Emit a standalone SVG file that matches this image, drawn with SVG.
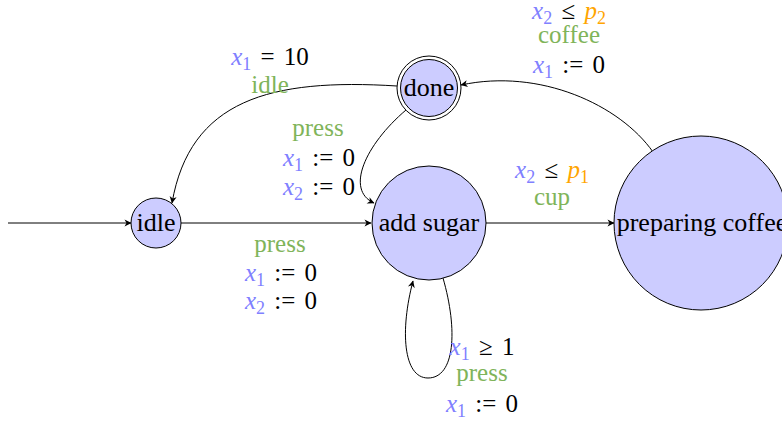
<svg xmlns="http://www.w3.org/2000/svg" width="782" height="422" viewBox="0 0 782 422">
<style>
text{font-family:"Liberation Serif","Times New Roman",serif;fill:#000}
.nt{font-size:26px;text-anchor:middle}
.lbl{font-size:25px;text-anchor:middle}
.v{fill:#8080ff;font-style:italic}
.o{fill:#ffa500;font-style:italic}
.s{font-size:18px;font-style:normal}
.g{fill:#7fb45a}
.node{fill:#ccccff;stroke:#000;stroke-width:1}
.edge{fill:none;stroke:#000;stroke-width:1;marker-end:url(#arr)}
</style>
<defs>
<marker id="arr" markerWidth="10" markerHeight="10" refX="0" refY="0" orient="auto" markerUnits="userSpaceOnUse" overflow="visible">
<path d="M0.5,0 L-6.5,-3.5 L-4.5,0 L-6.5,3.5 Z" fill="#000"/>
</marker>
</defs>
<g id="connectors">
<path class="edge" d="M8,223 L131,223"/>
<path class="edge" d="M181,223 L371,223"/>
<path class="edge" d="M486,223 L614,223"/>
<path class="edge" d="M653,152 C620,105 540,68 461,85"/>
<path class="edge" d="M397,86 C270,78 190,100 172,203"/>
<path class="edge" d="M406,110 C365,145 345,190 374,203"/>
<path class="edge" d="M443,278 C458,330 455,378 428,378 C403,378 400,330 413,281"/>
</g>
<g id="labels">
<text class="lbl" x="569" y="19"><tspan class="v">x</tspan><tspan class="v s" dy="5">2</tspan><tspan dy="-5" dx="3"> ≤ </tspan><tspan class="o" dx="3">p</tspan><tspan class="o s" dy="5">2</tspan></text>
<text class="lbl g" x="569" y="43">coffee</text>
<text class="lbl" x="569" y="73"><tspan class="v">x</tspan><tspan class="v s" dy="5">1</tspan><tspan dy="-5" dx="3"> := </tspan><tspan dx="3">0</tspan></text>
<text class="lbl" x="270" y="65"><tspan class="v">x</tspan><tspan class="v s" dy="5">1</tspan><tspan dy="-5" dx="3"> = </tspan><tspan dx="3">10</tspan></text>
<text class="lbl g" x="270" y="93">idle</text>
<text class="lbl g" x="318" y="136">press</text>
<text class="lbl" x="319" y="166"><tspan class="v">x</tspan><tspan class="v s" dy="5">1</tspan><tspan dy="-5" dx="3"> := </tspan><tspan dx="3">0</tspan></text>
<text class="lbl" x="319" y="195"><tspan class="v">x</tspan><tspan class="v s" dy="5">2</tspan><tspan dy="-5" dx="3"> := </tspan><tspan dx="3">0</tspan></text>
<text class="lbl g" x="280" y="252">press</text>
<text class="lbl" x="281" y="281"><tspan class="v">x</tspan><tspan class="v s" dy="5">1</tspan><tspan dy="-5" dx="3"> := </tspan><tspan dx="3">0</tspan></text>
<text class="lbl" x="281" y="309"><tspan class="v">x</tspan><tspan class="v s" dy="5">2</tspan><tspan dy="-5" dx="3"> := </tspan><tspan dx="3">0</tspan></text>
<text class="lbl" x="552" y="178"><tspan class="v">x</tspan><tspan class="v s" dy="5">2</tspan><tspan dy="-5" dx="3"> ≤ </tspan><tspan class="o" dx="3">p</tspan><tspan class="o s" dy="5">1</tspan></text>
<text class="lbl g" x="552" y="205">cup</text>
<text class="lbl" x="482" y="355"><tspan class="v">x</tspan><tspan class="v s" dy="5">1</tspan><tspan dy="-5" dx="3"> ≥ </tspan><tspan dx="3">1</tspan></text>
<text class="lbl g" x="482" y="381">press</text>
<text class="lbl" x="482" y="412"><tspan class="v">x</tspan><tspan class="v s" dy="5">1</tspan><tspan dy="-5" dx="3"> := </tspan><tspan dx="3">0</tspan></text>
</g>
<g id="idle">
<circle class="node" cx="156" cy="223" r="25"/>
<text class="nt" x="156" y="231">idle</text>
</g>
<g id="add-sugar">
<circle class="node" cx="429" cy="223" r="57"/>
<text class="nt" x="429" y="231">add sugar</text>
</g>
<g id="preparing-coffee">
<circle class="node" cx="701" cy="223" r="87"/>
<text class="nt" x="702" y="231">preparing coffee</text>
</g>
<g id="done">
<circle cx="429" cy="88" r="32" fill="#fff" stroke="#000" stroke-width="1"/>
<circle class="node" cx="429" cy="88" r="28.5"/>
<text class="nt" x="429" y="96">done</text>
</g>
</svg>
